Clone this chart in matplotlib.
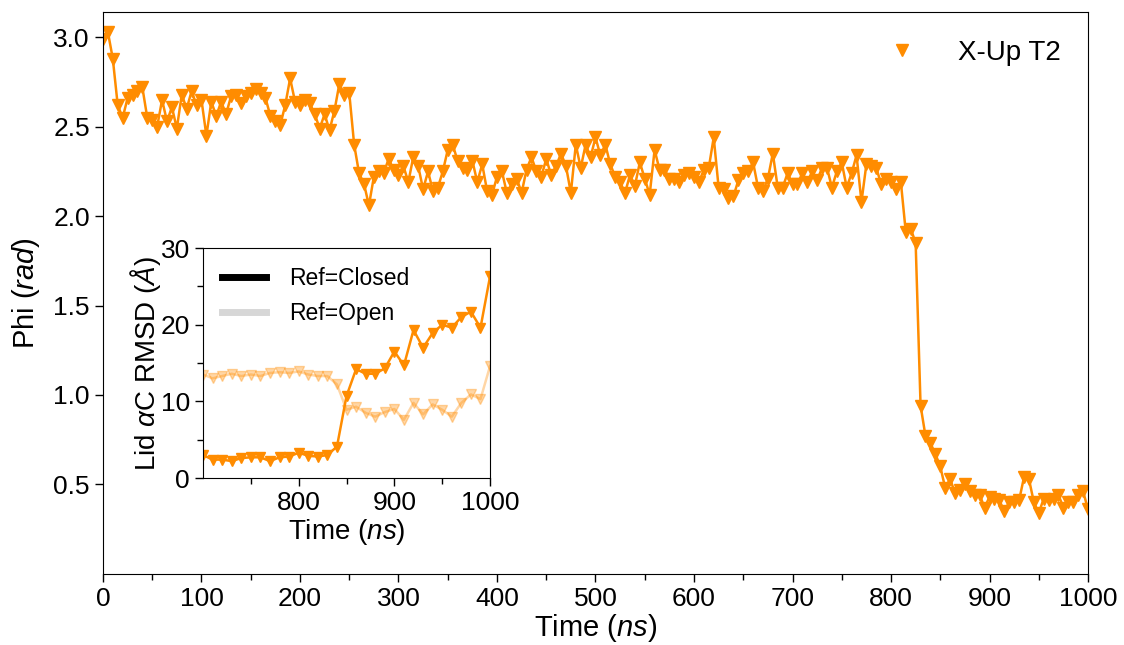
import numpy as np
import matplotlib
matplotlib.use("Agg")
from matplotlib import pyplot as plt

plt.rcParams['font.family'] = ['Liberation Sans', 'DejaVu Sans']
plt.rcParams['mathtext.fontset'] = 'custom'
plt.rcParams['mathtext.rm'] = 'Liberation Sans'
plt.rcParams['mathtext.it'] = 'Liberation Sans:italic'

# phi angle, sampled every 5 ns
time = np.arange(0, 1001, 5)
phi = [
    2.99, 3.03, 2.88, 2.62, 2.55, 2.66, 2.68, 2.70, 2.72, 2.55,   # 0-45
    2.54, 2.50, 2.65, 2.53, 2.61, 2.49, 2.68, 2.60, 2.70, 2.62,   # 50-95
    2.65, 2.45, 2.64, 2.56, 2.64, 2.57, 2.67, 2.68, 2.63, 2.67,   # 100-145
    2.69, 2.71, 2.69, 2.66, 2.56, 2.53, 2.51, 2.62, 2.77, 2.64,   # 150-195
    2.62, 2.65, 2.63, 2.57, 2.49, 2.57, 2.48, 2.59, 2.74, 2.68,   # 200-245
    2.69, 2.40, 2.24, 2.18, 2.06, 2.22, 2.25, 2.24, 2.32, 2.26,   # 250-295
    2.23, 2.28, 2.19, 2.33, 2.28, 2.15, 2.25, 2.14, 2.16, 2.25,   # 300-345
    2.37, 2.40, 2.31, 2.27, 2.26, 2.31, 2.19, 2.29, 2.14, 2.12,   # 350-395
    2.22, 2.25, 2.13, 2.18, 2.21, 2.13, 2.26, 2.33, 2.25, 2.22,   # 400-445
    2.32, 2.23, 2.28, 2.35, 2.28, 2.13, 2.40, 2.27, 2.40, 2.33,   # 450-495
    2.44, 2.34, 2.40, 2.29, 2.22, 2.19, 2.13, 2.23, 2.17, 2.30,   # 500-545
    2.21, 2.12, 2.37, 2.26, 2.26, 2.21, 2.21, 2.19, 2.23, 2.24,   # 550-595
    2.22, 2.19, 2.26, 2.27, 2.44, 2.16, 2.15, 2.10, 2.11, 2.20,   # 600-645
    2.24, 2.25, 2.30, 2.16, 2.14, 2.21, 2.35, 2.16, 2.16, 2.24,   # 650-695
    2.18, 2.18, 2.24, 2.19, 2.25, 2.20, 2.27, 2.27, 2.16, 2.25,   # 700-745
    2.30, 2.16, 2.24, 2.34, 2.08, 2.29, 2.28, 2.27, 2.18, 2.21,   # 750-795
    2.19, 2.15, 2.19, 1.91, 1.93, 1.85, 0.94, 0.77, 0.73, 0.67,   # 800-845
    0.60, 0.48, 0.53, 0.45, 0.47, 0.50, 0.46, 0.44, 0.44, 0.37,   # 850-895
    0.43, 0.42, 0.41, 0.35, 0.40, 0.40, 0.41, 0.54, 0.53, 0.40,   # 900-945
    0.34, 0.42, 0.41, 0.42, 0.44, 0.37, 0.40, 0.40, 0.44, 0.46,   # 950-995
    0.36,                                                         # 1000
]

# lid alpha-C RMSD, every 10 ns over the last 300 ns
time_rmsd = np.arange(700, 1001, 10)
rmsd_closed = [3.0, 2.4, 2.4, 2.2, 2.6, 2.7, 2.7, 2.2, 2.7, 2.8,
               3.3, 2.9, 2.8, 3.0, 4.1, 10.7, 14.2, 13.6, 13.6, 14.3,
               16.5, 14.7, 19.3, 17.0, 18.9, 20.0, 19.6, 21.0, 21.7, 19.6,
               26.3]
rmsd_open = [13.5, 13.0, 13.3, 13.6, 13.3, 13.5, 13.3, 13.7, 13.8, 13.7,
             13.9, 13.5, 13.3, 13.3, 12.2, 8.9, 9.3, 8.5, 8.0, 8.6,
             9.0, 7.6, 9.8, 8.3, 9.6, 8.9, 8.0, 9.8, 10.9, 10.3,
             14.6]

color = "darkorange"

fig = plt.figure(figsize=(11.24, 6.45), dpi=100)
ax = fig.add_axes([0.0916, 0.1105, 0.8764, 0.8709])
ax.plot(time, phi, color=color, lw=1.8, marker="v", ms=9, label="X-Up T2")
ax.set_xlim(0, 1000)
ax.set_ylim(0, np.pi)
ax.set_xticks(np.arange(0, 1001, 100))
ax.set_xticks(np.arange(0, 1001, 50), minor=True)
ax.set_yticks([0.5, 1.0, 1.5, 2.0, 2.5, 3.0])
ax.tick_params(labelsize=19, length=6, width=1)
ax.tick_params(which="minor", length=4, width=1)
ax.set_xlabel("Time ($ns$)", fontsize=21, labelpad=1)
ax.set_ylabel("Phi ($rad$)", fontsize=21, labelpad=8)
leg = ax.legend(loc="upper right", frameon=False, fontsize=20,
                handletextpad=1.0, borderaxespad=0.6)
for h in leg.legend_handles:
    h.set_linestyle("none")

# inset: lid RMSD against closed and open references
ins = fig.add_axes([0.1806, 0.2589, 0.2554, 0.3566])
ins.plot(time_rmsd, rmsd_open, color=color, alpha=0.35, lw=1.8,
         marker="v", ms=7)
ins.plot(time_rmsd, rmsd_closed, color=color, lw=1.8, marker="v", ms=7)
ins.plot([], [], color="black", lw=5, label="Ref=Closed")
ins.plot([], [], color="lightgray", lw=5, alpha=0.9, label="Ref=Open")
ins.set_xlim(700, 1000)
ins.set_ylim(0, 30)
ins.set_xticks([800, 900, 1000])
ins.set_xticks([750, 850, 950], minor=True)
ins.set_yticks([0, 10, 20, 30])
ins.set_yticks([5, 15, 25], minor=True)
ins.tick_params(labelsize=19, length=6, width=1)
ins.tick_params(which="minor", length=4, width=1)
ins.set_xlabel("Time ($ns$)", fontsize=20, labelpad=1)
ins.set_ylabel(r"Lid $\alpha$C RMSD ($\AA$)", fontsize=20, labelpad=-2)
ins.legend(loc="upper left", frameon=False, fontsize=16.5, handlelength=1.9,
           handletextpad=1.0, borderaxespad=0.45)

fig.savefig("out.png", dpi=100)
plt.close()
